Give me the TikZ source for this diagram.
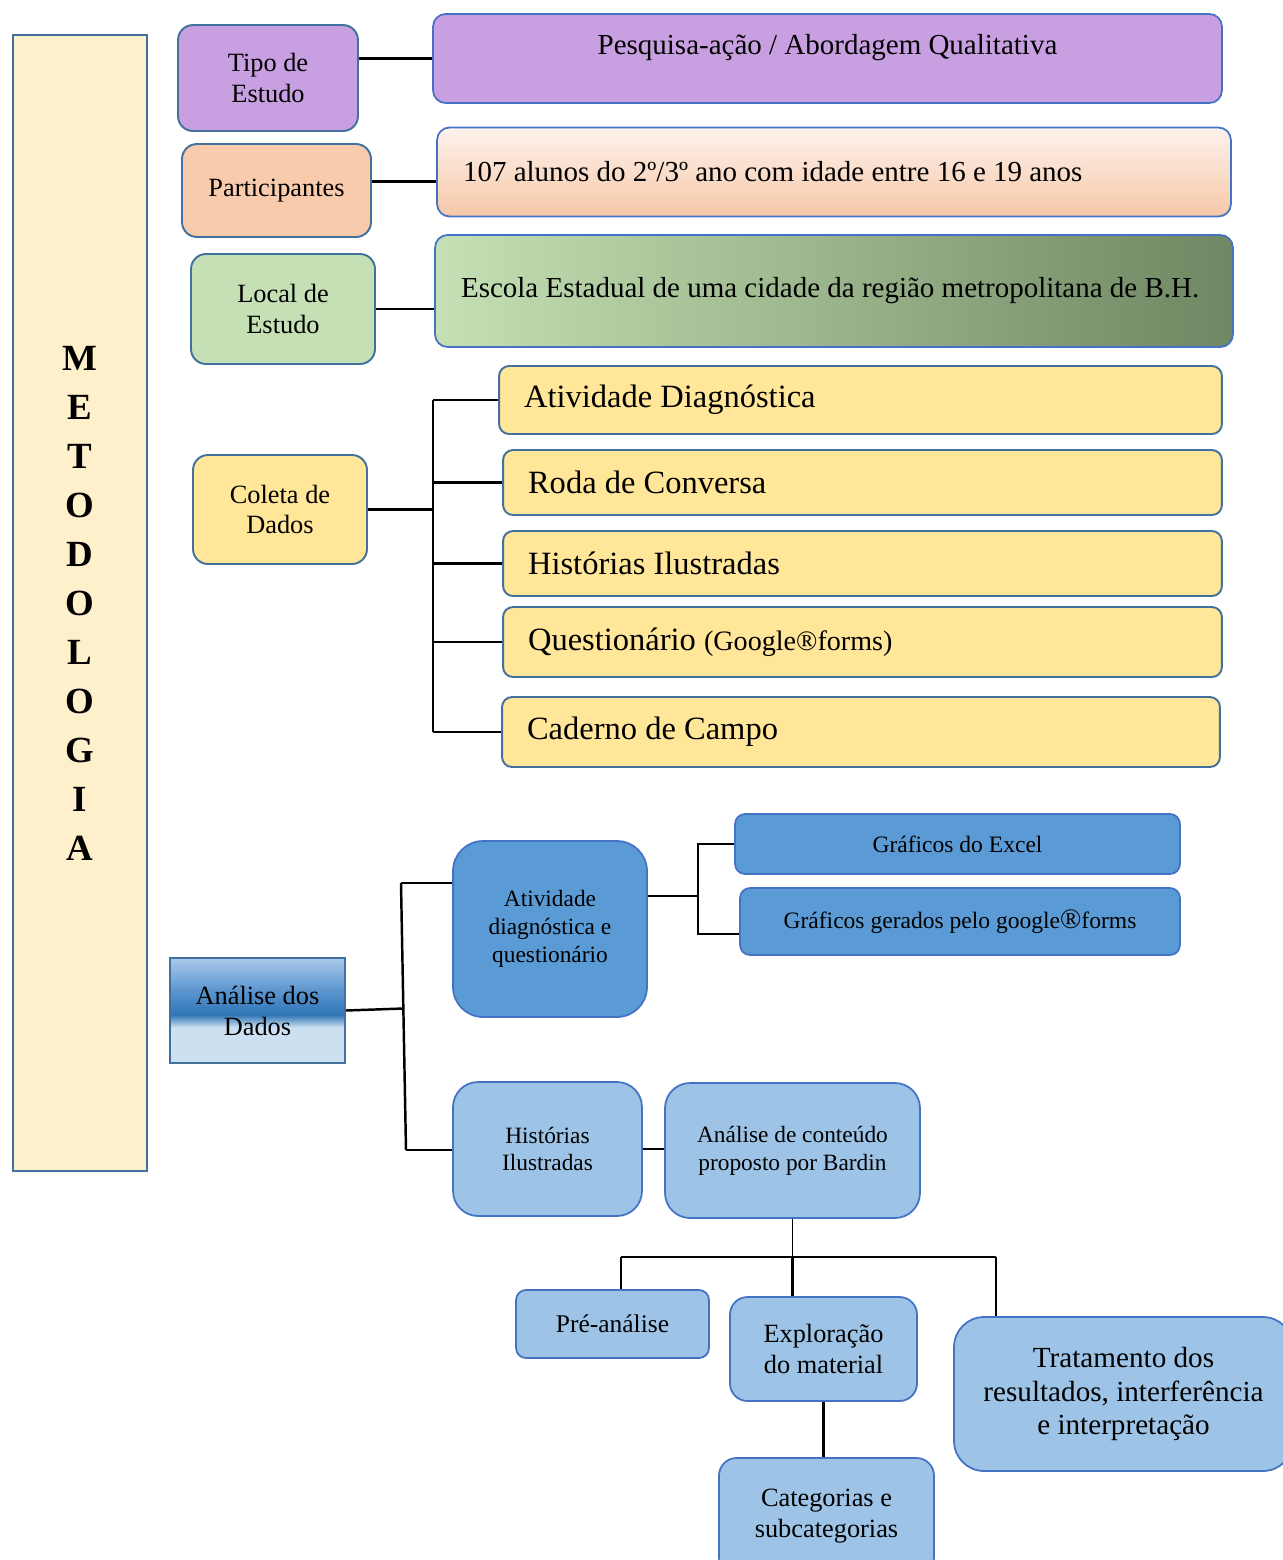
\documentclass[tikz,border=0pt]{standalone}
\usepackage{fontspec}
\setmainfont{Liberation Serif}
\usetikzlibrary{calc}

\definecolor{cremeMeto}{HTML}{FFF0CC}
\definecolor{bordaEsc}{HTML}{41719C}
\definecolor{bordaAzul}{HTML}{4472C4}
\definecolor{roxo}{HTML}{C89FE0}
\definecolor{pessego}{HTML}{F8CBAD}
\definecolor{pessegoTopo}{HTML}{FDF2EC}
\definecolor{pessegoBase}{HTML}{F4C19E}
\definecolor{pessegoFundo}{HTML}{F6C8A8}
\definecolor{verde}{HTML}{C5E0B4}
\definecolor{verdeEsc}{HTML}{6F8762}
\definecolor{amarelo}{HTML}{FFE699}
\definecolor{azulMed}{HTML}{5B9BD5}
\definecolor{azulClaro}{HTML}{9DC3E6}
\definecolor{anaTopo}{HTML}{ABC9EA}
\definecolor{anaMeio}{HTML}{5E97D0}
\definecolor{anaEsc}{HTML}{2E75B6}
\definecolor{anaBase}{HTML}{CCE0F2}

\pgfdeclareverticalshading{analiseshade}{100bp}{color(0bp)=(anaBase); color(25bp)=(anaBase); color(42bp)=(anaBase); color(48bp)=(anaEsc); color(60bp)=(anaMeio); color(75bp)=(anaTopo); color(100bp)=(anaTopo)}

\newcommand{\tam}[2]{\fontsize{#1}{#2}\selectfont}

\begin{document}
\begin{tikzpicture}[x=0.02cm,y=-0.02cm,
  caixa/.style={draw=bordaEsc, line width=1.1pt, rounded corners=0.3cm, align=center, inner sep=0pt, font=\tam{15}{17.6}},
  faixa/.style={draw=bordaAzul, line width=1pt, rounded corners=0.25cm, inner xsep=0.52cm, inner ysep=0pt, font=\tam{16.5}{20}},
  etapa/.style={draw=bordaEsc, line width=1.1pt, rounded corners=0.2cm, fill=amarelo, align=flush left, inner xsep=0.5cm, inner ysep=0pt, font=\tam{18.5}{22}},
  azulbox/.style={draw=bordaAzul, line width=1pt, align=center, inner sep=0pt},
  ligacao/.style={line width=1.4pt}]

  \useasboundingbox (0,0) rectangle (1283,1560);

  % Coluna lateral
  \node[draw=bordaEsc, line width=1.4pt, fill=cremeMeto, minimum width=2.68cm, minimum height=22.72cm,
        align=center, font=\tam{21}{27.9}\bfseries] (metodo) at (80,603)
        {M\\E\\T\\O\\D\\O\\L\\O\\G\\I\\A};

  % Tipo de estudo, participantes, local
  \node[caixa, fill=roxo, minimum width=3.6cm, minimum height=2.12cm] (tipo) at (268,78) {Tipo de\\Estudo};
  \node[faixa, fill=roxo, minimum width=15.78cm, minimum height=1.78cm, text height=12pt, text depth=17pt]
        (pesquisa) at (827.5,58.5) {Pesquisa-ação / Abordagem Qualitativa};

  \node[caixa, fill=pessego, minimum width=3.78cm, minimum height=1.86cm] (partic) at (276.5,190.5) {Participantes};
  \node[faixa, top color=pessegoTopo, middle color=pessegoBase, bottom color=pessegoFundo,
        text width=14.84cm, align=flush left, minimum height=1.78cm] (alunos) at (834,172)
        {107 alunos do 2º/3º ano com idade entre 16 e 19 anos};

  \node[caixa, fill=verde, minimum width=3.68cm, minimum height=2.2cm] (local) at (283,309) {Local de\\Estudo};
  \node[faixa, left color=verde, right color=verdeEsc, text width=14.92cm, align=flush left, minimum height=2.24cm]
        (escola) at (834,291) {\mbox{Escola Estadual de uma cidade da região metropolitana de B.H.}};

  % Coleta de dados
  \node[caixa, fill=amarelo, minimum width=3.48cm, minimum height=2.18cm] (coleta) at (280,509.5) {Coleta de\\Dados};
  \node[etapa, text width=13.46cm, minimum height=1.36cm] (ativ) at (860.5,400) {Atividade Diagnóstica};
  \node[etapa, text width=13.38cm, minimum height=1.3cm] (roda) at (862.5,482.5) {Roda de Conversa};
  \node[etapa, text width=13.38cm, minimum height=1.3cm] (histy) at (862.5,563.5) {Histórias Ilustradas};
  \node[etapa, text width=13.38cm, minimum height=1.4cm] (quest) at (862.5,642)
        {Questionário {\tam{16}{20}(Google®forms)}};
  \node[etapa, text width=13.36cm, minimum height=1.4cm] (cad) at (861,732) {Caderno de Campo};

  % Analise dos dados
  \node[draw=bordaEsc, line width=1.1pt, shading=analiseshade, minimum width=3.5cm, minimum height=2.1cm,
        align=center, font=\tam{15}{17.6}] (analise) at (257.5,1010.5) {Análise dos\\Dados};

  \node[azulbox, fill=azulMed, rounded corners=0.6cm, minimum width=3.88cm, minimum height=3.52cm,
        font=\tam{13.3}{15.9}] (atq) at (550,929) {Atividade\\diagnóstica e\\questionário};
  \node[azulbox, fill=azulMed, rounded corners=0.2cm, minimum width=8.9cm, minimum height=1.2cm,
        font=\tam{13.4}{16}] (excel) at (957.5,844) {Gráficos do Excel};
  \node[azulbox, fill=azulMed, rounded corners=0.2cm, minimum width=8.8cm, minimum height=1.34cm,
        font=\tam{13.4}{16}] (gforms) at (960,921.5) {Gráficos gerados pelo google{\tam{16}{16}®}forms};

  \node[azulbox, fill=azulClaro, rounded corners=0.5cm, minimum width=3.78cm, minimum height=2.68cm,
        font=\tam{13.3}{15.9}] (histb) at (547.5,1149) {Histórias\\Ilustradas};
  \node[azulbox, fill=azulClaro, rounded corners=0.5cm, minimum width=5.1cm, minimum height=2.7cm,
        font=\tam{13.3}{15.9}] (bardin) at (792.5,1150.5) {Análise de conteúdo\\proposto por Bardin};

  \node[azulbox, fill=azulClaro, rounded corners=0.2cm, minimum width=3.86cm, minimum height=1.36cm,
        font=\tam{14.5}{17}] (pre) at (612.5,1324) {Pré-análise};
  \node[azulbox, fill=azulClaro, rounded corners=0.35cm, minimum width=3.74cm, minimum height=2.08cm,
        font=\tam{15}{17.6}] (expl) at (823.5,1349) {Exploração\\do material};
  \node[azulbox, fill=azulClaro, rounded corners=0.35cm, minimum width=4.3cm, minimum height=2.34cm,
        font=\tam{15}{17.6}] (cat) at (826.5,1516.5) {Categorias e\\subcategorias};
  \node[azulbox, fill=azulClaro, rounded corners=0.6cm, minimum width=6.78cm, minimum height=3.08cm,
        font=\tam{16.6}{19.3}] (trat) at (1123.5,1394) {Tratamento dos\\resultados, interferência\\e interpretação};

  % Ligacoes do topo
  \draw[ligacao] (pesquisa.west) -- (pesquisa.west -| tipo.east);
  \draw[ligacao] ([yshift=5pt]partic.east) -- ([yshift=5pt]partic.east -| alunos.west);
  \draw[ligacao] (local.east) -- (local.east -| escola.west);

  % Chave da coleta
  \coordinate (colX) at (433,0);
  \draw[ligacao] (ativ.west -| colX) -- (cad.west -| colX);
  \draw[ligacao] (coleta.east) -- (coleta.east -| colX);
  \draw[ligacao] (ativ.west -| colX) -- (ativ.west);
  \draw[ligacao] (roda.west -| colX) -- (roda.west);
  \draw[ligacao] (histy.west -| colX) -- (histy.west);
  \draw[ligacao] (quest.west -| colX) -- (quest.west);
  \draw[ligacao] (cad.west -| colX) -- (cad.west);

  % Chave da analise
  \coordinate (ramoA) at (401,883);
  \coordinate (ramoB) at (406,1150);
  \draw[ligacao] (ramoA) -- (ramoB);
  \draw[ligacao] (ramoA) -- (ramoA -| atq.west);
  \draw[ligacao] (ramoB) -- (ramoB -| histb.west);
  \draw[ligacao] (analise.east) -- ($(ramoA)!0.47!(ramoB)$);

  % Graficos
  \coordinate (grafM) at (698,896);
  \coordinate (grafB) at (698,934);
  \draw[ligacao] (grafM -| atq.east) -- (grafM);
  \draw[ligacao] (excel.west) -| (grafB) -- (grafB -| gforms.west);

  % Bardin
  \draw[ligacao] (histb.east) -- (histb.east -| bardin.west);
  \coordinate (barraE) at (621,1257);
  \coordinate (barraD) at (996,1257);
  \draw[line width=0.7pt] (bardin.south) -- (bardin.south |- barraE);
  \draw[line width=1.6pt] (barraE) -- (barraD);
  \draw[ligacao] (barraE) -- (barraE |- pre.north);
  \draw[ligacao] (bardin.south |- barraE) -- (bardin.south |- expl.north);
  \draw[ligacao] (barraD) -- (barraD |- trat.north);
  \draw[ligacao] (expl.south) -- (expl.south |- cat.north);

\end{tikzpicture}
\end{document}
